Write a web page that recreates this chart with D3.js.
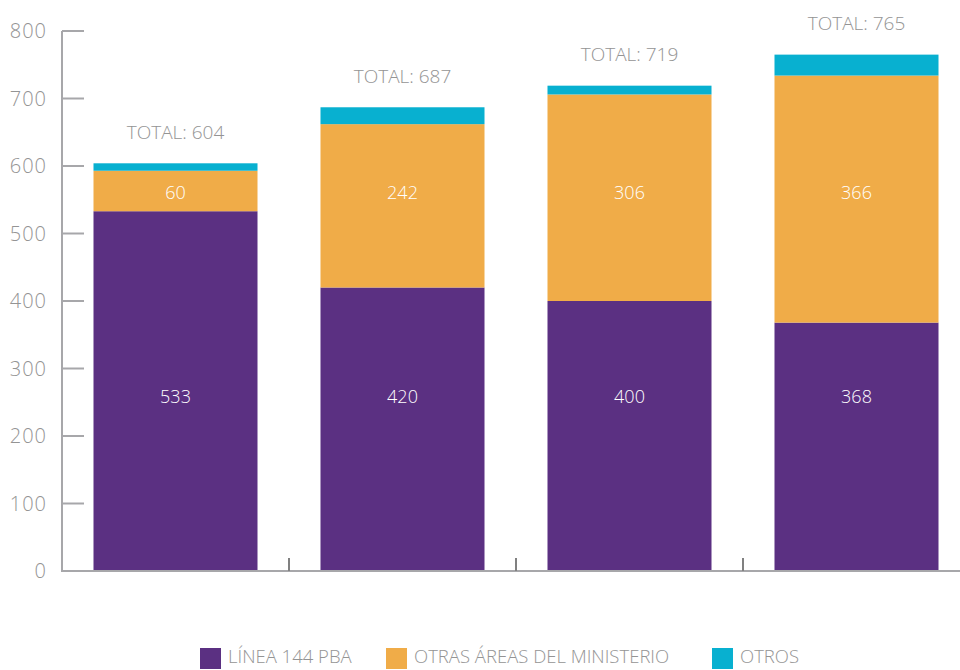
<!DOCTYPE html>
<html><head><meta charset="utf-8">
<script src="https://cdn.jsdelivr.net/npm/d3@7"></script>
<style>body{margin:0;background:#fff}svg{display:block}text{font-family:"Open Sans",sans-serif}</style>
</head><body><svg id="c" width="960" height="670"></svg>
<script>
const categories = ["A","B","C","D"];
const linea144 = [533, 420, 400, 368];
const otrasAreas = [60, 242, 306, 366];
const otros = [11, 25, 13, 31];
const totals = [604, 687, 719, 765];
const seriesNames = ["LÍNEA 144 PBA", "OTRAS ÁREAS DEL MINISTERIO", "OTROS"];
const seriesColors = ["#5B3082", "#F0AC48", "#08B0D0"];
const yTicks = [0,100,200,300,400,500,600,700,800];

const svg = d3.select("#c");
const y = d3.scaleLinear().domain([0,800]).range([571,31]);
const x = d3.scaleBand().domain(categories).range([62,970]).paddingInner(0.2775).paddingOuter(0.13875);

const rows = categories.map((c,i)=>({cat:c, s0:linea144[i], s1:otrasAreas[i], s2:otros[i], total:totals[i]}));
const stack = d3.stack().keys(["s0","s1","s2"])(rows);

svg.append("g").selectAll("g").data(stack).join("g")
  .attr("fill",(d,i)=>seriesColors[i])
  .selectAll("rect").data(d=>d).join("rect")
  .attr("x",d=>x(d.data.cat)).attr("width",x.bandwidth())
  .attr("y",d=>y(d[1])).attr("height",d=>y(d[0])-y(d[1]));

// y axis
const gy = svg.append("g").attr("transform","translate(62,0)");
gy.append("line").attr("x1",0).attr("x2",0).attr("y1",y(800)).attr("y2",y(0)).attr("stroke","#a7a7aa").attr("stroke-width",2);
gy.selectAll("line.t").data(yTicks).join("line").attr("class","t")
  .attr("x1",0).attr("x2",22).attr("y1",d=>y(d)).attr("y2",d=>y(d)).attr("stroke","#a7a7aa").attr("stroke-width",2);
gy.selectAll("text").data(yTicks).join("text")
  .attr("x",-15).attr("y",d=>y(d)).attr("dy","0.35em").attr("text-anchor","end")
  .attr("fill","#949494").attr("font-size",20).attr("font-weight",300).attr("letter-spacing",1).text(d=>d);

// x axis
svg.append("line").attr("x1",61).attr("x2",960).attr("y1",y(0)).attr("y2",y(0)).attr("stroke","#a7a7aa").attr("stroke-width",2);
const step = x.step();
svg.selectAll("line.ct").data(categories.slice(1)).join("line").attr("class","ct")
  .attr("x1",d=>x(d)-(step-x.bandwidth())/2).attr("x2",d=>x(d)-(step-x.bandwidth())/2)
  .attr("y1",y(0)-13).attr("y2",y(0)).attr("stroke","#808080").attr("stroke-width",2);

// segment labels
const lab = svg.append("g").attr("fill","#fff").attr("font-size",18).attr("font-weight",300).attr("text-anchor","middle");
lab.selectAll("text.a").data(rows).join("text").attr("class","a")
  .attr("x",d=>x(d.cat)+x.bandwidth()/2).attr("y",y(258)).attr("dy","0.35em").text(d=>d.s0);
lab.selectAll("text.b").data(rows).join("text").attr("class","b")
  .attr("x",d=>x(d.cat)+x.bandwidth()/2).attr("y",y(561)).attr("dy","0.35em").text(d=>d.s1);

// totals
svg.append("g").selectAll("text").data(rows).join("text")
  .attr("x",d=>x(d.cat)+x.bandwidth()/2).attr("y",d=>y(d.total)-31).attr("dy","0.35em")
  .attr("text-anchor","middle").attr("fill","#949494").attr("font-size",19).attr("font-weight",300)
  .text(d=>"TOTAL: "+d.total);

// legend
const legX = [200, 386, 712];
const lg = svg.append("g").selectAll("g").data(seriesNames).join("g")
  .attr("transform",(d,i)=>`translate(${legX[i]},648)`);
lg.append("rect").attr("width",21).attr("height",21).attr("fill",(d,i)=>seriesColors[i]);
lg.append("text").attr("x",28).attr("y",9).attr("dy","0.35em").attr("fill","#949494").attr("font-size",18.5).attr("font-weight",300).text(d=>d);
</script></body></html>
